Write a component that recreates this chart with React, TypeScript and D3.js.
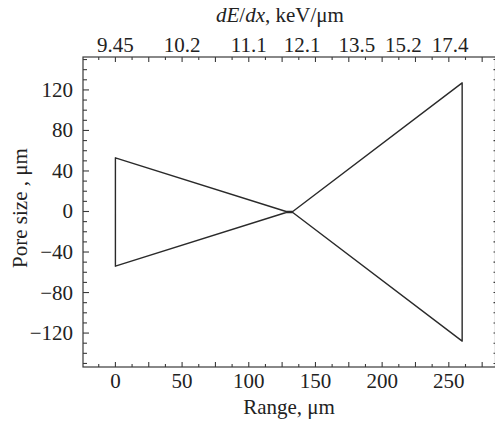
import React from "react";
import * as d3 from "d3";

const upperRange = [0, 128, 133, 260];
const upperSize = [53, 0, 0, 127];
const lowerRange = [0, 128, 133, 260];
const lowerSize = [-54, -1, -1, -128];

const bottomTicks = [0, 50, 100, 150, 200, 250];
const leftTicks = [-120, -80, -40, 0, 40, 80, 120];
const topTickPos = [0, 50, 100, 140, 181, 216, 251];
const topTickLabels = ["9.45", "10.2", "11.1", "12.1", "13.5", "15.2", "17.4"];

const W = 495;
const H = 422;
const L = 83;
const R = 495.5;
const T = 57;
const B = 367;

export default function App() {
  const x = d3.scaleLinear().domain([-24.3, 285]).range([L, R]);
  const y = d3.scaleLinear().domain([-153.5, 152.5]).range([B, T]);

  const pts: [number, number][] = [];
  upperRange.forEach((r, i) => pts.push([r, upperSize[i]]));
  for (let i = lowerRange.length - 1; i >= 0; i--) pts.push([lowerRange[i], lowerSize[i]]);
  const line = d3
    .line<[number, number]>()
    .x((d) => x(d[0]))
    .y((d) => y(d[1]));
  const path = line(pts) + "Z";

  const xMinor = d3.range(-12.5, 285, 12.5);
  const yMinor = d3.range(-150, 151, 10);
  const axisColor = "#3a3a3a";
  const fs = 21;
  const textStyle = { fontFamily: "Liberation Serif", fontSize: fs + "px" };

  return (
    <svg width={W} height={H} style={{ position: "absolute", left: 0, top: 0 }}>
      <rect width={W} height={H} fill="#fff" />
      <rect x={L} y={T} width={R - L} height={B - T} fill="none" stroke={axisColor} strokeWidth={1.2} />
      {xMinor.map((v) => {
        const len = Math.abs(v % 25) < 1e-6 ? 5 : 3;
        return (
          <g key={"x" + v}>
            <line x1={x(v)} x2={x(v)} y1={B} y2={B - len} stroke={axisColor} strokeWidth={1.1} />
            <line x1={x(v)} x2={x(v)} y1={T} y2={T + len} stroke={axisColor} strokeWidth={1.1} />
          </g>
        );
      })}
      {yMinor.map((v) => {
        const len = Math.abs(v % 40) < 1e-6 ? 6 : 4;
        return (
          <g key={"y" + v}>
            <line x1={L} x2={L + len} y1={y(v)} y2={y(v)} stroke={axisColor} strokeWidth={1.1} />
            <line x1={R} x2={R - 2} y1={y(v)} y2={y(v)} stroke={axisColor} strokeWidth={1.1} />
          </g>
        );
      })}
      {bottomTicks.map((v) => (
        <text key={"bl" + v} x={x(v)} y={B + 21} textAnchor="middle" style={textStyle} fill="#222">
          {v}
        </text>
      ))}
      {leftTicks.map((v) => (
        <text key={"ll" + v} x={L - 10} y={y(v) + 7} textAnchor="end" style={textStyle} fill="#222">
          {v < 0 ? "\u2212" + Math.abs(v) : v}
        </text>
      ))}
      {topTickPos.map((v, i) => (
        <text key={"tl" + i} x={x(v)} y={T - 5} textAnchor="middle" style={textStyle} fill="#222">
          {topTickLabels[i]}
        </text>
      ))}
      <text x={289} y={414} textAnchor="middle" style={textStyle} fill="#222">
        Range, μm
      </text>
      <text x={280} y={22} textAnchor="middle" style={textStyle} fill="#222">
        <tspan fontStyle="italic">dE</tspan>/<tspan fontStyle="italic">dx</tspan>, keV/μm
      </text>
      <text transform={`translate(27, 208) rotate(-90)`} textAnchor="middle" style={textStyle} fill="#222">
        Pore size , μm
      </text>
      <path d={path} fill="none" stroke="#2a2a2a" strokeWidth={1.4} strokeLinejoin="round" />
    </svg>
  );
}
